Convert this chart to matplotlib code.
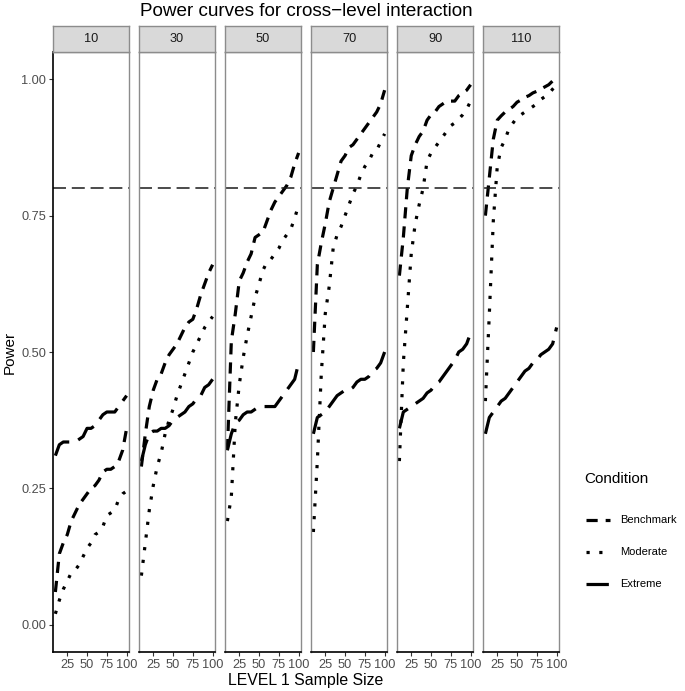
import matplotlib
matplotlib.use('Agg')
import matplotlib.pyplot as plt
from matplotlib.lines import Line2D
import numpy as np

plt.rcParams['font.family'] = ['Liberation Sans', 'DejaVu Sans']

# level-2 sample sizes (facets)
level2 = [10, 30, 50, 70, 90, 110]
# level-1 sample sizes (x axis)
level1 = [10, 15, 20, 25, 30, 35, 40, 45, 50, 55, 60, 65, 70, 75, 80, 85, 90, 95, 100]
conditions = ['Benchmark', 'Moderate', 'Extreme']

benchmark = {
    10: [0.06, 0.13, 0.15, 0.165, 0.19, 0.205, 0.22, 0.23, 0.24, 0.25, 0.255, 0.265, 0.28, 0.285, 0.285, 0.29, 0.30, 0.32, 0.36],
    30: [0.29, 0.35, 0.40, 0.43, 0.45, 0.46, 0.48, 0.495, 0.505, 0.515, 0.53, 0.545, 0.555, 0.56, 0.58, 0.605, 0.625, 0.645, 0.66],
    50: [0.32, 0.52, 0.57, 0.63, 0.645, 0.665, 0.68, 0.71, 0.715, 0.72, 0.74, 0.76, 0.775, 0.785, 0.795, 0.805, 0.82, 0.845, 0.865],
    70: [0.50, 0.66, 0.70, 0.735, 0.775, 0.80, 0.825, 0.85, 0.86, 0.875, 0.88, 0.89, 0.90, 0.91, 0.92, 0.93, 0.94, 0.955, 0.98],
    90: [0.64, 0.71, 0.80, 0.86, 0.88, 0.895, 0.905, 0.925, 0.935, 0.94, 0.95, 0.955, 0.96, 0.96, 0.96, 0.97, 0.975, 0.98, 0.99],
    110: [0.75, 0.82, 0.89, 0.925, 0.933, 0.94, 0.945, 0.95, 0.958, 0.962, 0.967, 0.97, 0.975, 0.978, 0.982, 0.986, 0.99, 0.997, 0.995],
}
moderate = {
    10: [0.02, 0.045, 0.065, 0.08, 0.095, 0.10, 0.11, 0.125, 0.14, 0.15, 0.165, 0.17, 0.18, 0.20, 0.205, 0.21, 0.23, 0.24, 0.245],
    30: [0.09, 0.15, 0.21, 0.255, 0.29, 0.315, 0.35, 0.375, 0.395, 0.42, 0.44, 0.46, 0.48, 0.50, 0.515, 0.53, 0.545, 0.555, 0.565],
    50: [0.19, 0.235, 0.37, 0.44, 0.49, 0.53, 0.565, 0.60, 0.625, 0.65, 0.665, 0.67, 0.68, 0.69, 0.705, 0.715, 0.725, 0.745, 0.77],
    70: [0.17, 0.30, 0.46, 0.57, 0.62, 0.69, 0.715, 0.73, 0.75, 0.77, 0.79, 0.805, 0.825, 0.84, 0.85, 0.865, 0.87, 0.885, 0.90],
    90: [0.30, 0.48, 0.58, 0.68, 0.735, 0.77, 0.80, 0.85, 0.865, 0.875, 0.885, 0.895, 0.905, 0.915, 0.92, 0.927, 0.935, 0.945, 0.96],
    110: [0.41, 0.57, 0.74, 0.84, 0.875, 0.89, 0.91, 0.92, 0.93, 0.935, 0.94, 0.945, 0.95, 0.955, 0.963, 0.968, 0.973, 0.982, 0.99],
}
extreme = {
    10: [0.31, 0.33, 0.335, 0.335, 0.335, 0.335, 0.34, 0.345, 0.36, 0.36, 0.365, 0.375, 0.385, 0.39, 0.39, 0.39, 0.40, 0.41, 0.42],
    30: [0.30, 0.33, 0.35, 0.355, 0.355, 0.36, 0.36, 0.365, 0.375, 0.38, 0.385, 0.39, 0.40, 0.405, 0.415, 0.42, 0.435, 0.44, 0.45],
    50: [0.32, 0.35, 0.37, 0.375, 0.385, 0.39, 0.39, 0.395, 0.40, 0.40, 0.40, 0.40, 0.40, 0.41, 0.42, 0.43, 0.44, 0.45, 0.48],
    70: [0.35, 0.38, 0.385, 0.39, 0.40, 0.41, 0.42, 0.425, 0.43, 0.43, 0.435, 0.445, 0.45, 0.45, 0.455, 0.465, 0.47, 0.48, 0.50],
    90: [0.36, 0.39, 0.395, 0.40, 0.405, 0.41, 0.415, 0.425, 0.43, 0.44, 0.445, 0.455, 0.465, 0.475, 0.485, 0.50, 0.505, 0.515, 0.535],
    110: [0.35, 0.38, 0.39, 0.40, 0.41, 0.415, 0.425, 0.435, 0.445, 0.455, 0.465, 0.47, 0.48, 0.485, 0.495, 0.50, 0.505, 0.515, 0.545],
}
target_power = 0.8

series = {'Benchmark': benchmark, 'Moderate': moderate, 'Extreme': extreme}
styles = {'Benchmark': (0, (3.5, 2.5)), 'Moderate': (0, (1, 3)), 'Extreme': (0, (7, 3))}

W, H = 685, 691
fig = plt.figure(figsize=(W / 100, H / 100), dpi=100)

lefts = [53, 139, 225, 311, 397, 483]
pw = 76
top, bottom = 52, 652
strip_top = 26

for i, l2 in enumerate(level2):
    x0 = lefts[i]
    ax = fig.add_axes([x0 / W, 1 - bottom / H, pw / W, (bottom - top) / H])
    for cond in conditions:
        ax.plot(level1, series[cond][l2], color='black', lw=2.3,
                linestyle=styles[cond], dash_capstyle='butt', solid_capstyle='butt')
    ax.axhline(target_power, color='#1a1a1a', lw=1.1, linestyle=(0, (8.5, 3.8)))
    ax.set_xlim(7, 103)
    ax.set_ylim(-0.05, 1.05)
    ax.set_xticks([25, 50, 75, 100])
    ax.set_yticks([0, 0.25, 0.5, 0.75, 1.0])
    ax.tick_params(axis='both', colors='#333333', labelcolor='#4d4d4d',
                   labelsize=9.2, length=3, width=0.8, pad=2)
    for side in ['top', 'right', 'left']:
        ax.spines[side].set_color('#8c8c8c')
        ax.spines[side].set_linewidth(1.0)
    ax.spines['bottom'].set_color('black')
    ax.spines['bottom'].set_linewidth(1.2)
    if i == 0:
        ax.spines['left'].set_color('black')
        ax.spines['left'].set_linewidth(1.2)
        ax.set_yticklabels(['0.00', '0.25', '0.50', '0.75', '1.00'])
        ax.set_ylabel('Power', fontsize=11, labelpad=3)
    else:
        ax.tick_params(axis='y', left=False, labelleft=False)

    # facet strip
    sax = fig.add_axes([x0 / W, 1 - top / H, pw / W, (top - strip_top) / H])
    sax.set_facecolor('#d9d9d9')
    sax.set_xticks([])
    sax.set_yticks([])
    for sp in sax.spines.values():
        sp.set_color('#8c8c8c')
        sp.set_linewidth(1.0)
    sax.text(0.5, 0.5, str(l2), ha='center', va='center', fontsize=9.2, color='#1a1a1a',
             transform=sax.transAxes)

fig.text(306 / W, 1 - 11 / H, 'Power curves for cross\u2212level interaction',
         ha='center', va='center', fontsize=13.6)
fig.text(306 / W, 1 - 680 / H, 'LEVEL 1 Sample Size', ha='center', va='center', fontsize=11.4)

# legend
fig.text(584 / W, 1 - 479 / H, 'Condition', ha='left', va='center', fontsize=11)
for k, cond in enumerate(conditions):
    yy = 1 - (520 + 32 * k) / H
    fig.add_artist(Line2D([586 / W, 610 / W], [yy, yy], color='black', lw=2.3,
                          linestyle=styles[cond], dash_capstyle='butt',
                          transform=fig.transFigure))
    fig.text(620 / W, yy, cond, ha='left', va='center', fontsize=8.0)

fig.savefig('out.png', dpi=100)
